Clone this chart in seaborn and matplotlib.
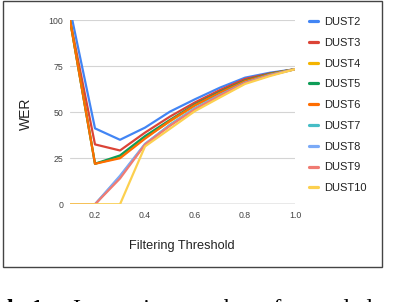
import numpy as np
import pandas as pd
import matplotlib
matplotlib.use("Agg")
import matplotlib.pyplot as plt
import seaborn as sns
from matplotlib.lines import Line2D
from matplotlib.patches import Rectangle

# ---- data ----
thresholds = [0.1, 0.2, 0.3, 0.4, 0.5, 0.6, 0.7, 0.8, 0.9, 1.0]
series_names = ["DUST2", "DUST3", "DUST4", "DUST5", "DUST6",
                "DUST7", "DUST8", "DUST9", "DUST10"]
dust2 = [106, 41.2, 35.0, 41.6, 50.3, 57.0, 63.3, 68.7, 71.4, 73.3]
dust3 = [100, 32.5, 29.2, 38.9, 47.6, 55.3, 62.0, 68.0, 71.0, 73.3]
dust4 = [100, 22.0, 25.5, 36.2, 45.0, 53.6, 60.6, 66.8, 70.6, 73.3]
dust5 = [100, 22.0, 26.5, 37.0, 45.8, 54.2, 61.0, 67.1, 70.8, 73.3]
dust6 = [100, 22.0, 25.0, 35.6, 45.3, 53.8, 60.6, 66.8, 70.6, 73.3]
dust7 = [0, 0, 15.0, 32.6, 43.2, 52.2, 59.4, 66.0, 70.2, 73.3]
dust8 = [0, 0, 15.5, 32.8, 43.0, 52.0, 59.2, 65.9, 70.1, 73.3]
dust9 = [0, 0, 14.0, 32.4, 42.6, 51.6, 59.0, 65.8, 70.0, 73.3]
dust10 = [0, 0, 0, 31.4, 41.0, 50.6, 58.0, 65.3, 69.6, 73.3]
all_values = [dust2, dust3, dust4, dust5, dust6, dust7, dust8, dust9, dust10]
colors = ["#4285F4", "#DB4437", "#F4B400", "#0F9D58", "#FF6D00",
          "#46BDC6", "#7BAAF7", "#F07B72", "#FCD04F"]
x_ticks = [0.2, 0.4, 0.6, 0.8, 1.0]
y_ticks = [0, 25, 50, 75, 100]

rows = []
for name, vals in zip(series_names, all_values):
    for t, v in zip(thresholds, vals):
        rows.append({"threshold": t, "WER": v, "series": name})
df = pd.DataFrame(rows)

# ---- figure ----
sns.set_theme(style="white")
plt.rcParams["font.family"] = ["Liberation Sans", "DejaVu Sans"]

W, H = 418, 302
fig = plt.figure(figsize=(W / 100, H / 100), dpi=100)
L, R, T, B = 70, 295, 20, 204.3
ax = fig.add_axes([L / W, 1 - B / H, (R - L) / W, (B - T) / H])

for y in [25, 50, 75, 100]:
    ax.axhline(y, color="#d4d4d4", lw=0.8, zorder=0)
ax.axhline(0, color="#555555", lw=0.9, zorder=0.5)

sns.lineplot(data=df, x="threshold", y="WER", hue="series",
             hue_order=series_names, palette=colors, linewidth=1.6,
             ax=ax, legend=False, zorder=2)

ax.set_xlim(0.1, 1.0)
ax.set_ylim(0, 100)
ax.set_xticks(x_ticks)
ax.set_xticklabels([f"{v:.1f}" for v in x_ticks])
ax.set_yticks(y_ticks)
ax.set_yticklabels([str(v) for v in y_ticks])
ax.tick_params(axis="both", length=0, labelsize=6.3, colors="#444444")
ax.tick_params(axis="x", pad=5)
ax.tick_params(axis="y", pad=5)
for s in ax.spines.values():
    s.set_visible(False)
ax.set_xlabel("")
ax.set_ylabel("")

fig.text(182 / W, 1 - 246.5 / H, "Filtering Threshold", ha="center",
         va="center", fontsize=9.2, color="#222222")
fig.text(25.5 / W, 1 - 114 / H, "WER", ha="center", va="center",
         rotation=90, fontsize=10, color="#222222")

handles = [Line2D([0], [0], color=c, lw=2.3) for c in colors]
fig.legend(handles, series_names, loc="upper left",
           bbox_to_anchor=(309 / W, 1 - 17 / H), frameon=False,
           fontsize=8, handlelength=0.85, handletextpad=0.5,
           labelspacing=0.97, borderpad=0, borderaxespad=0,
           labelcolor="#222222")

# border box
fig.add_artist(Rectangle((2.5 / W, 1 - 266.5 / H), 379 / W, 265.5 / H,
                         transform=fig.transFigure, fill=False,
                         edgecolor="#444444", lw=1.0))

# partially visible caption below the chart (cut off by the image edge,
# as in the reference)
fig.text(-33 / W, 1 - 314.7 / H, "Table 1:", ha="left", va="baseline",
         fontsize=17.6, fontweight="bold", family="Liberation Serif",
         color="black")
fig.text(73 / W, 1 - 314.7 / H, "Increasing number of recorded",
         ha="left", va="baseline", fontsize=17.6,
         family="Liberation Serif", color="black")

fig.savefig("out.png", dpi=100)
